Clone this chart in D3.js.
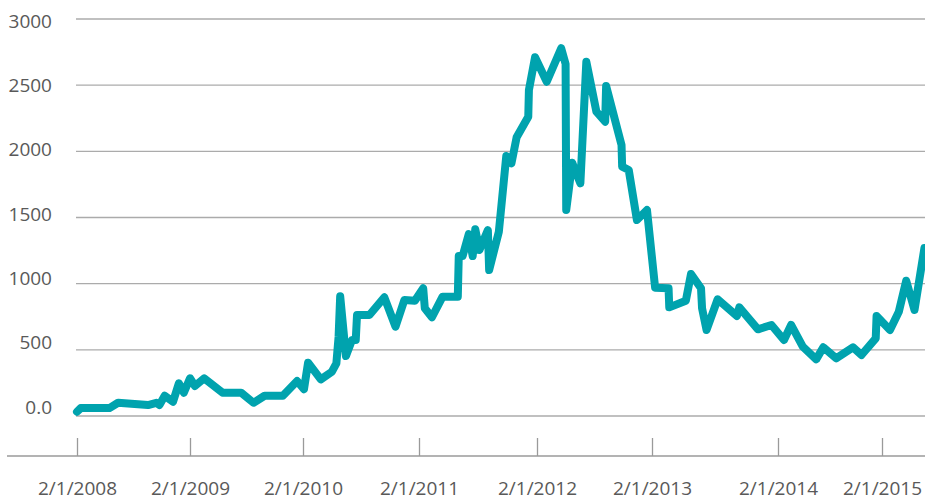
<!DOCTYPE html>
<html>
<head>
<meta charset="utf-8">
<script src="https://cdn.jsdelivr.net/npm/d3@7"></script>
<style>
  body { margin: 0; background: #fff; }
  svg text { font-family: "Open Sans", "DejaVu Sans", sans-serif; fill: #595959; }
</style>
</head>
<body>
<svg></svg>
<script>
// Chart data
const dates = [
  "2008-02-01","2008-02-13","2008-05-16","2008-06-13","2008-09-18","2008-10-15","2008-10-25","2008-11-11",
  "2008-12-08","2008-12-27","2009-01-12","2009-02-01","2009-02-17","2009-03-19","2009-05-17","2009-07-16",
  "2009-08-25","2009-09-30","2009-11-28","2010-01-13","2010-02-04","2010-02-17","2010-03-29","2010-05-03",
  "2010-05-17","2010-05-24","2010-05-29","2010-06-16","2010-07-05","2010-07-17","2010-07-21","2010-08-29",
  "2010-10-15","2010-11-19","2010-12-17","2011-01-19","2011-02-14","2011-02-19","2011-03-13","2011-04-15",
  "2011-06-01","2011-06-04","2011-06-16","2011-07-05","2011-07-17","2011-07-25","2011-08-07","2011-09-02",
  "2011-09-06","2011-10-06","2011-10-29","2011-11-14","2011-11-30","2012-01-05","2012-01-07","2012-01-26",
  "2012-03-03","2012-04-18","2012-05-02","2012-05-04","2012-05-23","2012-06-18","2012-07-07","2012-08-08",
  "2012-09-05","2012-09-08","2012-10-27","2012-10-29","2012-11-19","2012-12-15","2013-01-16","2013-02-10",
  "2013-03-21","2013-03-23","2013-05-10","2013-05-25","2013-06-23","2013-06-26","2013-07-09","2013-08-10",
  "2013-10-05","2013-10-12","2013-12-05","2014-01-13","2014-02-22","2014-03-19","2014-04-29","2014-06-15",
  "2014-07-10","2014-08-24","2014-10-22","2014-11-21","2015-01-10","2015-01-13","2015-03-01","2015-04-01",
  "2015-04-27","2015-05-26","2015-06-30"
];
const values = [
  32, 60, 60, 100, 83, 100, 83, 153,
  108, 247, 176, 285, 227, 285, 176, 176,
  100, 153, 153, 264, 202, 403, 277, 335,
  398, 599, 905, 453, 574, 574, 763, 763,
  897, 675, 877, 871, 965, 814, 746, 902,
  902, 1209, 1209, 1375, 1209, 1411, 1254, 1405,
  1103, 1393, 1965, 1910, 2106, 2262, 2464, 2711,
  2526, 2779, 2660, 1557, 1914, 1758, 2677, 2300,
  2224, 2494, 2048, 1884, 1859, 1481, 1557, 970,
  965, 821, 871, 1073, 965, 814, 650, 882,
  756, 821, 655, 688, 574, 688, 524, 428,
  519, 436, 519, 461, 587, 756, 650, 788,
  1022, 801, 1270
];
const xTickDates = ["2008-02-01","2009-02-01","2010-02-01","2011-02-01","2012-02-01","2013-02-01","2014-02-01","2015-02-01"];
const yTicks = [0, 500, 1000, 1500, 2000, 2500, 3000];

const width = 925, height = 502;
const svg = d3.select("svg").attr("width", width).attr("height", height);

const parse = d3.timeParse("%Y-%m-%d");
const data = dates.map((d, i) => ({ date: parse(d), value: values[i] }));
const tickDates = xTickDates.map(parse);

// Category-style axis: year ticks are not evenly spaced in the original
const x = d3.scaleTime()
  .domain(tickDates.concat([parse("2016-02-01")]))
  .range([77, 190, 303, 419, 537, 652, 778, 882, 986]);

const y = d3.scaleLinear().domain([0, 3000]).range([416, 19]);
const yLabel = d3.scaleLinear().domain([0, 3000]).range([407, 21]);

// Gridlines
svg.append("g")
  .selectAll("line")
  .data(yTicks)
  .join("line")
  .attr("x1", 76).attr("x2", width)
  .attr("y1", d => y(d)).attr("y2", d => y(d))
  .attr("stroke", "#ababab")
  .attr("stroke-width", 1.3);

// Y labels
svg.append("g")
  .selectAll("text")
  .data(yTicks)
  .join("text")
  .attr("x", 52)
  .attr("y", d => yLabel(d))
  .attr("dy", "0.35em")
  .attr("text-anchor", "end")
  .attr("font-size", 19)
  .text(d => d === 0 ? "0.0" : d);

// X axis
const xAxis = svg.append("g")
  .attr("transform", "translate(0,456)")
  .call(d3.axisBottom(x).tickValues(tickDates).tickSize(0).tickPadding(0).tickFormat(d3.timeFormat("%-m/%-d/%Y")))
  .attr("font-size", 19)
  .attr("font-family", "'Open Sans', 'DejaVu Sans', sans-serif");
xAxis.select(".domain").remove();
xAxis.append("line")
  .attr("x1", 7).attr("x2", width)
  .attr("stroke", "#9a9a9a").attr("stroke-width", 1.3);
xAxis.selectAll(".tick").append("line")
  .attr("y1", -18).attr("y2", 0)
  .attr("stroke", "#9a9a9a").attr("stroke-width", 1.3);
xAxis.selectAll(".tick text")
  .attr("y", 39)
  .attr("dy", 0)
  .attr("fill", "#595959");

// Line
const line = d3.line()
  .x(d => x(d.date))
  .y(d => y(d.value));

svg.append("path")
  .datum(data)
  .attr("d", line)
  .attr("fill", "none")
  .attr("stroke", "#00a3ae")
  .attr("stroke-width", 8)
  .attr("stroke-linejoin", "round")
  .attr("stroke-linecap", "round");
</script>
</body>
</html>
